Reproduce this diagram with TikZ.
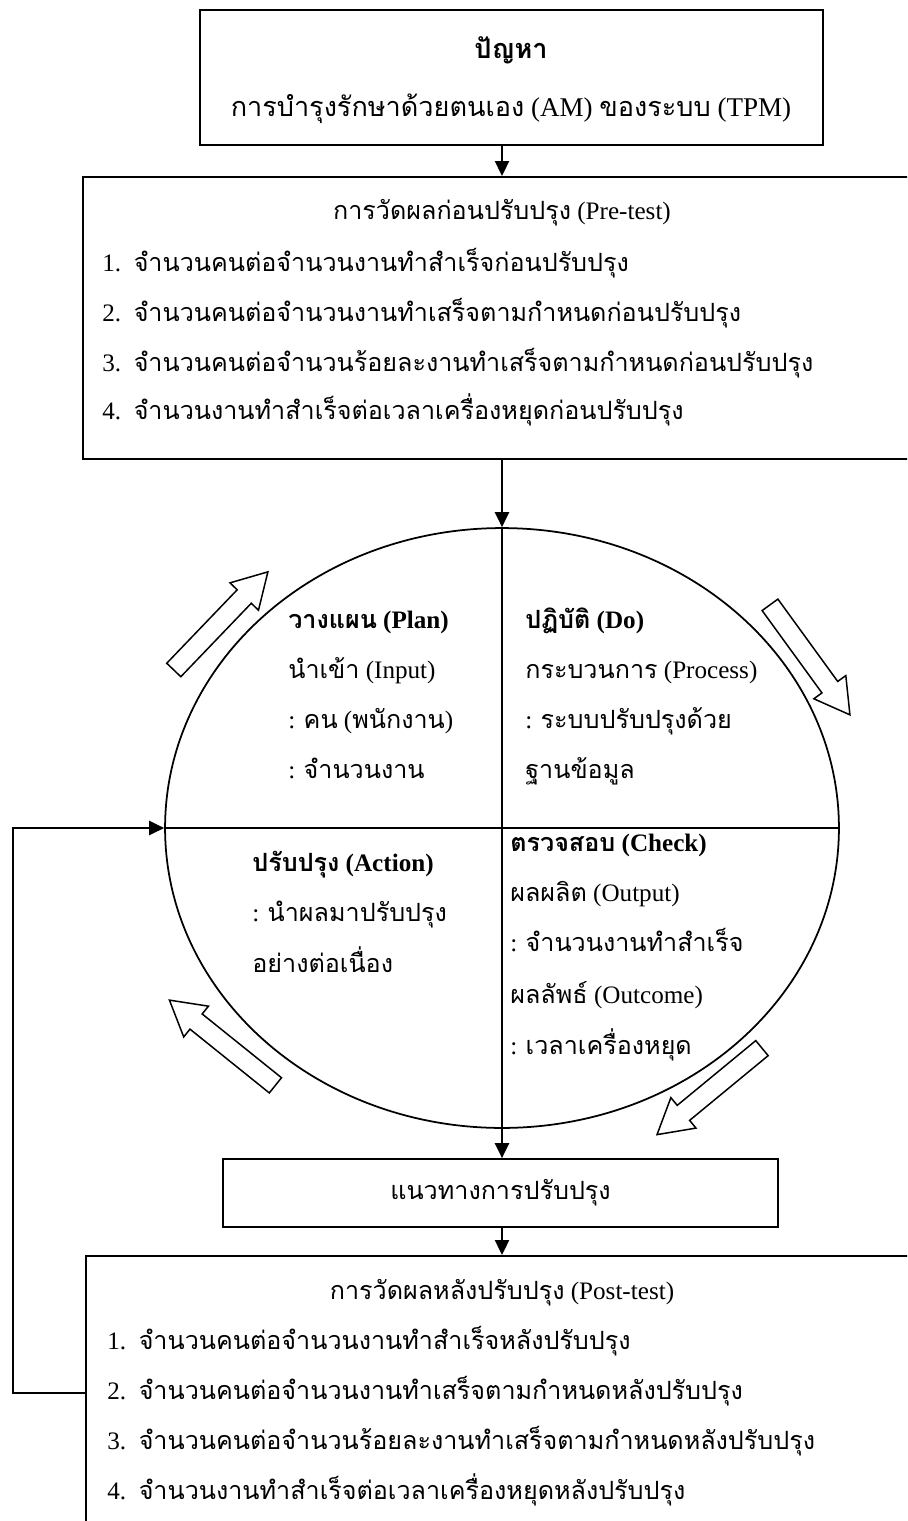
\documentclass[tikz,border=0pt]{standalone}
\usepackage{fontspec}
\setmainfont{Liberation Serif}
\newfontfamily\thaifont[Script=Thai]{Loma}
\newcommand{\tha}[1]{{\thaifont #1}}
\usetikzlibrary{arrows.meta,positioning,calc,shapes}
\tikzset{
  panel/.style={draw, line width=1pt, inner sep=0pt},
  txt/.style={inner sep=0pt, text height=10pt, text depth=3pt,
    font=\fontsize{14.3}{17}\selectfont},
  boldtxt/.style={txt, font=\fontsize{14.3}{17}\selectfont\bfseries},
  bigtxt/.style={txt, font=\fontsize{15.4}{18}\selectfont},
  flowarrow/.style={-{Triangle[length=3mm,width=2.8mm]}, line width=1.3pt},
  divider/.style={line width=0.9pt},
  turnarrow/.style={single arrow, draw, line width=0.85pt,
    inner xsep=0pt, inner ysep=0.18cm,
    minimum height=2.72cm, minimum width=0.76cm,
    single arrow head extend=0.2cm, single arrow tip angle=60},
}

\begin{document}
\begin{tikzpicture}[x=0.02cm, y=-0.02cm]
    \useasboundingbox (0,0) rectangle (907,1521);
    \clip (0,0) rectangle (907,1521);
    \node[panel, minimum width=12.46cm, minimum height=2.7cm] (prob) at (511.5,77.5) {};
    \node[boldtxt, font=\fontsize{15.4}{18}\selectfont\bfseries] (probhead) at (511,52) {\tha{ปัญหา}};
    \node[bigtxt] (probtext) at (511,110)
      {\tha{การบำรุงรักษาด้วยตนเอง} (AM) \tha{ของระบบ} (TPM)};
    \node[panel, anchor=north west, minimum width=18.5cm, minimum height=5.64cm]
      (pre) at (82,176) {};
    \node[txt] (pretitle) at (502,213) {\tha{การวัดผลก่อนปรับปรุง} (Pre-test)};
    \node[txt, anchor=west] (pre1) at (102,265)
      {1.~~\tha{จำนวนคนต่อจำนวนงานทำสำเร็จก่อนปรับปรุง}};
    \node[txt, anchor=west] (pre2) at (102,315)
      {2.~~\tha{จำนวนคนต่อจำนวนงานทำเสร็จตามกำหนดก่อนปรับปรุง}};
    \node[txt, anchor=west] (pre3) at (102,365)
      {3.~~\tha{จำนวนคนต่อจำนวนร้อยละงานทำเสร็จตามกำหนดก่อนปรับปรุง}};
    \node[txt, anchor=west] (pre4) at (102,413)
      {4.~~\tha{จำนวนงานทำสำเร็จต่อเวลาเครื่องหยุดก่อนปรับปรุง}};
    \node[draw, ellipse, line width=1pt, inner sep=0pt,
      minimum width=13.48cm, minimum height=12cm] (cycle) at (502,828) {};
    \draw[divider] (cycle.west) -- (cycle.east);
    \draw[divider] (cycle.north) -- (cycle.south);
    \node[boldtxt, anchor=west] (plan) at (288,622) {\tha{วางแผน} (Plan)};
    \node[txt, anchor=west] (plan1) at (288,672) {\tha{นำเข้า} (Input)};
    \node[txt, anchor=west] (plan2) at (288,722) {: \tha{คน} (\tha{พนักงาน})};
    \node[txt, anchor=west] (plan3) at (288,772) {: \tha{จำนวนงาน}};
    \node[boldtxt, anchor=west] (do) at (525,622) {\tha{ปฏิบัติ} (Do)};
    \node[txt, anchor=west] (do1) at (525,672) {\tha{กระบวนการ} (Process)};
    \node[txt, anchor=west] (do2) at (525,722) {: \tha{ระบบปรับปรุงด้วย}};
    \node[txt, anchor=west] (do3) at (525,772) {\tha{ฐานข้อมูล}};
    \node[boldtxt, anchor=west] (act) at (252,865) {\tha{ปรับปรุง} (Action)};
    \node[txt, anchor=west] (act1) at (252,915) {: \tha{นำผลมาปรับปรุง}};
    \node[txt, anchor=west] (act2) at (252,966) {\tha{อย่างต่อเนื่อง}};
    \node[boldtxt, anchor=west] (chk) at (510,845) {\tha{ตรวจสอบ} (Check)};
    \node[txt, anchor=west] (chk1) at (510,895) {\tha{ผลผลิต} (Output)};
    \node[txt, anchor=west] (chk2) at (510,945) {: \tha{จำนวนงานทำสำเร็จ}};
    \node[txt, anchor=west] (chk3) at (510,997) {\tha{ผลลัพธ์} (Outcome)};
    \node[txt, anchor=west] (chk4) at (510,1048) {: \tha{เวลาเครื่องหยุด}};
    \node[turnarrow, rotate=46.2] (arrplan) at (215,627) {};
    \node[turnarrow, rotate=-54] (arrdo) at (805,653) {};
    \node[turnarrow, rotate=219.5] (arrchk) at (716,1086) {};
    \node[turnarrow, rotate=141.2] (arract) at (229,1048) {};
    \node[panel, minimum width=11.1cm, minimum height=1.36cm, font=\fontsize{14.3}{17}\selectfont]
      (guide) at (500.5,1193) {\tha{แนวทางการปรับปรุง}};
    \node[panel, anchor=north west, minimum width=18.5cm, minimum height=6cm]
      (post) at (85,1255) {};
    \node[txt] (posttitle) at (502,1293) {\tha{การวัดผลหลังปรับปรุง} (Post-test)};
    \node[txt, anchor=west] (post1) at (107,1343)
      {1.~~\tha{จำนวนคนต่อจำนวนงานทำสำเร็จหลังปรับปรุง}};
    \node[txt, anchor=west] (post2) at (107,1393)
      {2.~~\tha{จำนวนคนต่อจำนวนงานทำเสร็จตามกำหนดหลังปรับปรุง}};
    \node[txt, anchor=west] (post3) at (107,1443)
      {3.~~\tha{จำนวนคนต่อจำนวนร้อยละงานทำเสร็จตามกำหนดหลังปรับปรุง}};
    \node[txt, anchor=west] (post4) at (107,1493)
      {4.~~\tha{จำนวนงานทำสำเร็จต่อเวลาเครื่องหยุดหลังปรับปรุง}};
    \coordinate (loopcorner) at (13,828);
    \draw[flowarrow] (prob.south -| cycle.north) -- (pre.north -| cycle.north);
    \draw[flowarrow] (pre.south -| cycle.north) -- (cycle.north);
    \draw[flowarrow] ($(cycle.south)+(0,-60)$) -- (guide.north -| cycle.south);
    \draw[flowarrow] (guide.south -| cycle.south) -- (post.north -| cycle.south);
    \draw[flowarrow] (post2.west -| post.west) -| (loopcorner) -- (cycle.west);
\end{tikzpicture}
\end{document}
